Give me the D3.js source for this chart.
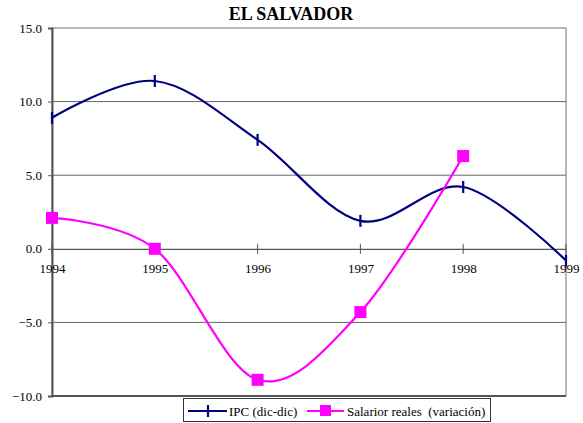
<!DOCTYPE html>
<html>
<head>
<meta charset="utf-8">
<script src="https://cdn.jsdelivr.net/npm/d3@7"></script>
<style>
  body { margin: 0; background: #fff; }
</style>
</head>
<body>
<svg width="583" height="423"></svg>
<script>
// datos
const years = [1994, 1995, 1996, 1997, 1998, 1999];
const ipc = [8.9, 11.4, 7.4, 1.9, 4.2, -0.8];
const salarios = [2.1, 0.0, -8.9, -4.3, 6.3];
const yTicks = [15, 10, 5, 0, -5, -10];
const seriesNames = ["IPC (dic-dic)", "Salarior reales  (variación)"];

const svg = d3.select("svg");
const plotLeft = 52, plotRight = 566, plotTop = 28, plotBottom = 396;

const x = d3.scaleLinear().domain([1994, 1999]).range([plotLeft, plotRight]);
const y = d3.scaleLinear().domain([-10, 15]).range([plotBottom, plotTop]);

// titulo
svg.append("text")
  .attr("x", 291).attr("y", 20)
  .attr("text-anchor", "middle")
  .attr("font-size", 18).attr("font-weight", "bold")
  .text("EL SALVADOR");

// marco
svg.append("rect")
  .attr("x", plotLeft).attr("y", plotTop)
  .attr("width", plotRight - plotLeft).attr("height", plotBottom - plotTop)
  .attr("fill", "none").attr("stroke", "#888").attr("stroke-width", 1.2);

// rejilla
svg.append("g").selectAll("line")
  .data(yTicks.filter(d => d !== 0 && d !== 15 && d !== -10))
  .enter().append("line")
    .attr("x1", plotLeft).attr("x2", plotRight)
    .attr("y1", d => y(d)).attr("y2", d => y(d))
    .attr("stroke", "#666").attr("stroke-width", 1);

// eje y
const yAxis = svg.append("g")
  .attr("transform", `translate(${plotLeft},0)`)
  .call(d3.axisLeft(y).tickValues(yTicks).tickFormat(d3.format(".1f")).tickSize(4).tickPadding(6));
yAxis.select(".domain").attr("stroke", "#555").attr("stroke-width", 2);
yAxis.selectAll(".tick line").attr("stroke", "#555");
yAxis.selectAll("text").attr("font-size", 13).attr("fill", "#000");

// linea inferior
svg.append("line")
  .attr("x1", plotLeft).attr("x2", plotRight)
  .attr("y1", plotBottom).attr("y2", plotBottom)
  .attr("stroke", "#555").attr("stroke-width", 2);

// eje x en cero
const xAxis = svg.append("g")
  .attr("transform", `translate(0,${y(0)})`)
  .call(d3.axisBottom(x).tickValues(years).tickFormat(d3.format("d")).tickSize(0).tickPadding(15));
xAxis.select(".domain").attr("stroke", "#555").attr("stroke-width", 1.2);
xAxis.selectAll("text").attr("font-size", 13).attr("fill", "#000");
svg.append("g").selectAll("line")
  .data(years)
  .enter().append("line")
    .attr("x1", d => x(d)).attr("x2", d => x(d))
    .attr("y1", y(0) - 5).attr("y2", y(0) + 5)
    .attr("stroke", "#555");

const line = d3.line()
  .x((d, i) => x(years[i]))
  .y(d => y(d))
  .curve(d3.curveCardinal.tension(0));

// IPC
svg.append("path")
  .attr("d", line(ipc))
  .attr("fill", "none").attr("stroke", "#000080").attr("stroke-width", 2.2);
svg.append("g").selectAll("line")
  .data(ipc)
  .enter().append("line")
    .attr("x1", (d, i) => x(years[i])).attr("x2", (d, i) => x(years[i]))
    .attr("y1", d => y(d) - 6).attr("y2", d => y(d) + 6)
    .attr("stroke", "#000080").attr("stroke-width", 2.2);

// salarios
svg.append("path")
  .attr("d", line(salarios))
  .attr("fill", "none").attr("stroke", "#ff00ff").attr("stroke-width", 2.2);
svg.append("g").selectAll("rect")
  .data(salarios)
  .enter().append("rect")
    .attr("x", (d, i) => x(years[i]) - 6).attr("y", d => y(d) - 6)
    .attr("width", 12).attr("height", 12)
    .attr("fill", "#ff00ff");

// leyenda
const lg = svg.append("g");
lg.append("rect")
  .attr("x", 183.5).attr("y", 398.5).attr("width", 307).attr("height", 23)
  .attr("fill", "#fff").attr("stroke", "#333").attr("stroke-width", 1);
lg.append("line").attr("x1", 188).attr("x2", 227).attr("y1", 411).attr("y2", 411)
  .attr("stroke", "#000080").attr("stroke-width", 2.2);
lg.append("line").attr("x1", 208).attr("x2", 208).attr("y1", 405).attr("y2", 417)
  .attr("stroke", "#000080").attr("stroke-width", 2.2);
lg.append("text").attr("x", 229).attr("y", 415.5).attr("font-size", 13)
  .text(seriesNames[0]);
lg.append("line").attr("x1", 307).attr("x2", 344).attr("y1", 411).attr("y2", 411)
  .attr("stroke", "#ff00ff").attr("stroke-width", 2.2);
lg.append("rect").attr("x", 320).attr("y", 405).attr("width", 11).attr("height", 11)
  .attr("fill", "#ff00ff");
lg.append("text").attr("x", 347).attr("y", 415.5).attr("font-size", 13)
  .style("white-space", "pre")
  .text(seriesNames[1]);

// fuente serif en todos los textos
svg.selectAll("text").style("font-family", "'Liberation Serif'");
</script>
</body>
</html>
